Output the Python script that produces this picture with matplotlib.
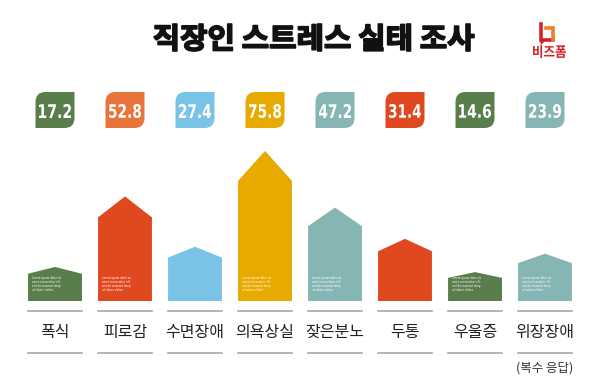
import matplotlib
matplotlib.use("Agg")
import matplotlib.pyplot as plt
import matplotlib.transforms as mtransforms
from matplotlib.patches import Polygon, PathPatch
from matplotlib.path import Path
from matplotlib.lines import Line2D
from matplotlib.textpath import TextPath
from matplotlib.font_manager import FontProperties

plt.rcParams['font.family'] = ['Noto Sans CJK KR', 'DejaVu Sans']

# data
categories = ["폭식", "피로감", "수면장애", "의욕상실", "잦은분노", "두통", "우울증", "위장장애"]
values = [17.2, 52.8, 27.4, 75.8, 47.2, 31.4, 14.6, 23.9]
bar_colors = ["#5a7e4b", "#e0481f", "#79c3e6", "#e8a900", "#86b6b4", "#e0481f", "#5a7e4b", "#86b6b4"]
badge_colors = ["#5a7e4b", "#e8743b", "#79c3e6", "#e8a900", "#86b6b4", "#e0481f", "#5a7e4b", "#86b6b4"]
has_note = [True, True, False, True, True, False, True, True]

W, H = 600, 380


# pixel-from-top to figure fraction
def fy(px):
    return 1 - px / H


fig = plt.figure(figsize=(6, 3.8), dpi=100)
fig.patch.set_facecolor("white")
px_trans = mtransforms.Affine2D().scale(1 / W, 1 / H) + fig.transFigure


# draw text as a path squeezed into a pixel box (condensed display type)
def fit_text(s, prop, x0, x1, ytop, ybot, color, stroke=0):
    tp = TextPath((0, 0), s, size=100, prop=prop)
    bb = tp.get_extents()
    t = (mtransforms.Affine2D().translate(-bb.x0, -bb.y0)
         .scale((x1 - x0) / bb.width, (ybot - ytop) / bb.height)
         .translate(x0, H - ybot) + px_trans)
    fig.add_artist(PathPatch(tp, transform=t, facecolor=color, edgecolor=color, lw=stroke,
                             joinstyle="round"))


ax = fig.add_axes([20 / W, fy(301), 560 / W, 158.4 / H])
ax.axis("off")
trans = mtransforms.blended_transform_factory(ax.transData, fig.transFigure)

num_font = FontProperties(family="DejaVu Sans", weight="bold")
bw = 0.77  # bar width
for i, v in enumerate(values):
    shoulder = v * 0.8
    pts = [(i - bw / 2, 0), (i + bw / 2, 0), (i + bw / 2, shoulder), (i, v), (i - bw / 2, shoulder)]
    ax.add_patch(Polygon(pts, closed=True, facecolor=bar_colors[i], edgecolor="none"))
    if has_note[i]:
        ax.text(i - bw / 2 + 0.06, 4.3, "Lorem ipsum dolor sit\namet consectetur elit\nsed do eiusmod temp\nut labore dolore",
                fontsize=1.9, color="white", va="bottom", ha="left", linespacing=1.0,
                family="DejaVu Sans")

    # value badge (leaf shape)
    hw = 19.5 / 70
    x0, x1 = i - hw, i + hw
    y0, y1 = fy(128), fy(92)
    rx, ry = 10 / 70, 10 / H
    verts = [(x0, y0), (x1 - rx, y0), (x1, y0), (x1, y0 + ry), (x1, y1),
             (x0 + rx, y1), (x0, y1), (x0, y1 - ry), (x0, y0)]
    codes = [Path.MOVETO, Path.LINETO, Path.CURVE3, Path.CURVE3, Path.LINETO,
             Path.LINETO, Path.CURVE3, Path.CURVE3, Path.CLOSEPOLY]
    ax.add_patch(PathPatch(Path(verts, codes), transform=trans, facecolor=badge_colors[i],
                           edgecolor="none", clip_on=False))
    cx = 55 + 70 * i
    fit_text(f"{v}", num_font, cx - 16, cx + 16, 104, 118, "white")

    # separators and category label
    for ypx in (311, 353):
        ax.add_line(Line2D([i - bw / 2, i + bw / 2], [fy(ypx), fy(ypx)], transform=trans,
                           color="#a8a8a8", lw=1.2, clip_on=False))
    ax.text(i, fy(332), categories[i], transform=trans, ha="center", va="center",
            fontsize=11.5, color="#222222")

ax.text(7, fy(368), "(복수 응답)", transform=trans, ha="center", va="center",
        fontsize=9, color="#333333")

ax.set_xlim(-0.5, 7.5)
ax.set_ylim(0, 80)

# title
title_font = FontProperties(family="Noto Sans CJK KR", weight="black")
fit_text("직장인 스트레스 실태 조사", title_font, 154, 474, 24, 51, "#111111", stroke=1.2)

# logo
red, orange = "#d3202b", "#ee7d2a"
fig.add_artist(Line2D([541 / W, 541 / W, 553 / W], [fy(24), fy(40), fy(40)], color=red, lw=2.6,
                      solid_joinstyle="miter"))
fig.add_artist(Line2D([546 / W, 553 / W, 553 / W], [fy(28), fy(28), fy(40)], color=orange, lw=2.6,
                      solid_joinstyle="miter"))
fig.add_artist(Polygon([(540 / W, fy(40)), (546 / W, fy(40)), (541 / W, fy(45))], closed=True,
                       transform=fig.transFigure, facecolor=red, edgecolor="none"))
logo_font = FontProperties(family="Noto Sans CJK KR", weight="bold")
fit_text("비즈폼", logo_font, 533, 566, 45, 58, red)

fig.savefig("out.png", dpi=100)
